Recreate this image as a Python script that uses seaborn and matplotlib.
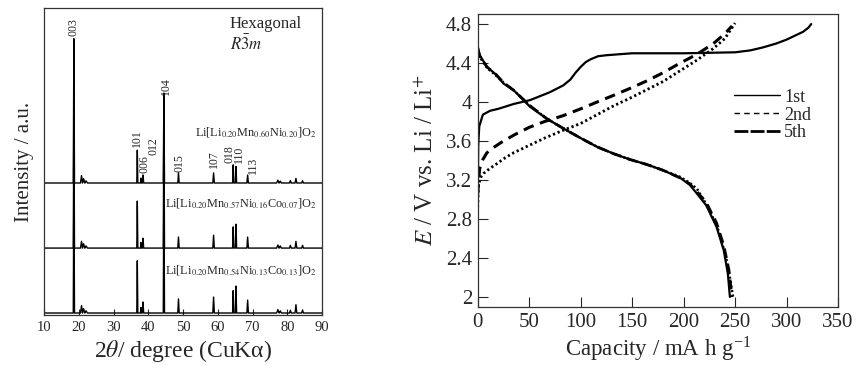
import numpy as np
import pandas as pd
import matplotlib
matplotlib.use("Agg")
import matplotlib.pyplot as plt
import seaborn as sns
from matplotlib.lines import Line2D

# ---------------- XRD data (left panel) ----------------
peak_pos = [18.6, 20.8, 21.4, 22.1, 36.85, 37.9, 38.5, 44.5, 48.7, 58.8, 64.45, 65.25, 68.6, 77.3, 78.0, 80.9, 82.5, 84.4]
peak_hw = [0.18, 0.3, 0.35, 0.4, 0.15, 0.15, 0.18, 0.18, 0.2, 0.22, 0.18, 0.18, 0.22, 0.35, 0.3, 0.25, 0.25, 0.25]
top_h = [47, 2.4, 1.4, 0.7, 10.7, 1.6, 2.6, 29.3, 3.3, 3.3, 5.9, 5.4, 2.6, 0.9, 0.6, 0.8, 1.5, 0.7]
mid_h = [46, 2.2, 1.4, 0.7, 15.3, 1.8, 3.2, 46, 3.6, 4.2, 6.9, 7.8, 3.6, 1.0, 0.7, 0.9, 2.2, 0.9]
bot_h = [46, 2.4, 1.4, 0.7, 17.0, 1.8, 3.6, 46, 4.6, 5.2, 7.3, 8.8, 4.2, 1.1, 0.7, 0.9, 2.7, 1.0]
baselines = [43.0, 21.8, 0.65]
xrd_labels = [r"Li[Li$_{0.20}$Mn$_{0.60}$Ni$_{0.20}$]O$_2$",
              r"Li[Li$_{0.20}$Mn$_{0.57}$Ni$_{0.16}$Co$_{0.07}$]O$_2$",
              r"Li[Li$_{0.20}$Mn$_{0.54}$Ni$_{0.13}$Co$_{0.13}$]O$_2$"]
label_y = [59.5, 36.5, 14.8]
hkl_text = ["003", "101", "006", "012", "104", "015", "107", "018\n110", "113"]
hkl_x = [18.6, 36.7, 38.9, 41.4, 45.0, 48.9, 59.0, 64.8, 70.1]
hkl_y = [90.8, 54.7, 46.2, 52.2, 71.8, 46.6, 47.9, 49.4, 46.0]

# ---------------- Charge/discharge data (right panel) ----------------
c1_cap = [0, 0.5, 1.5, 5, 12, 20, 35, 51, 70, 83, 90, 95, 100, 105, 110, 117, 125, 150, 200, 250, 265, 277, 290, 300, 310, 316, 321, 324]
c1_E = [2.86, 3.55, 3.75, 3.87, 3.91, 3.93, 3.98, 4.02, 4.10, 4.17, 4.23, 4.30, 4.36, 4.41, 4.44, 4.47, 4.48, 4.50, 4.50, 4.51, 4.53, 4.56, 4.60, 4.64, 4.69, 4.72, 4.76, 4.80]
c2_cap = [0, 1, 2, 5, 9, 15, 22, 35, 50, 65, 83, 100, 116, 130, 148, 165, 180, 195, 213, 229, 240, 247]
c2_E = [3.05, 3.22, 3.32, 3.41, 3.48, 3.53, 3.58, 3.66, 3.74, 3.80, 3.86, 3.93, 4.00, 4.06, 4.14, 4.22, 4.30, 4.39, 4.49, 4.60, 4.70, 4.78]
c5_cap = [0, 0.5, 1, 3, 6, 12, 19, 27, 35, 51, 65, 83, 100, 116, 130, 148, 165, 180, 195, 213, 229, 240, 250]
c5_E = [2.92, 3.08, 3.16, 3.23, 3.27, 3.32, 3.37, 3.43, 3.48, 3.56, 3.63, 3.71, 3.78, 3.87, 3.95, 4.04, 4.13, 4.21, 4.31, 4.43, 4.55, 4.65, 4.81]
d1_cap = [0, 2, 9, 18, 25, 35, 51, 67, 83, 100, 116, 132, 148, 164, 180, 197, 206, 213, 222, 232, 239, 243, 245]
d1_E = [4.57, 4.48, 4.36, 4.28, 4.19, 4.12, 3.95, 3.83, 3.73, 3.63, 3.54, 3.47, 3.41, 3.36, 3.30, 3.22, 3.15, 3.06, 2.94, 2.72, 2.48, 2.24, 2.00]
d2_cap = [0, 2, 9, 18, 25, 35, 51, 67, 83, 100, 116, 132, 148, 164, 180, 197, 206, 213, 222, 232, 239, 244, 247]
d2_E = [4.55, 4.47, 4.36, 4.28, 4.20, 4.12, 3.96, 3.83, 3.73, 3.63, 3.54, 3.47, 3.41, 3.36, 3.30, 3.22, 3.16, 3.08, 2.97, 2.76, 2.53, 2.28, 2.00]
d5_cap = [0, 2, 9, 18, 25, 35, 51, 67, 83, 100, 116, 132, 148, 164, 180, 197, 206, 213, 225, 234, 241, 245, 248]
d5_E = [4.53, 4.46, 4.35, 4.27, 4.20, 4.12, 3.96, 3.83, 3.73, 3.63, 3.54, 3.47, 3.41, 3.36, 3.30, 3.23, 3.17, 3.11, 2.90, 2.68, 2.42, 2.20, 2.00]
cycle_names = ["1st", "2nd", "5th"]

sns.set_style("ticks")
plt.rcParams["font.family"] = ["Liberation Serif", "DejaVu Serif"]
plt.rcParams["mathtext.fontset"] = "stix"

fig = plt.figure(figsize=(8.61, 3.65), dpi=100)
axL = fig.add_axes([44 / 861, 1 - 315 / 365, (322 - 44) / 861, (315 - 8) / 365])
axR = fig.add_axes([477.7 / 861, 1 - 307 / 365, (838 - 477.7) / 861, (307 - 14) / 365])


def stick_trace(base, heights):
    xs, ys = [10.0], [base]
    for p, w, h in zip(peak_pos, peak_hw, heights):
        xs += [p - w, p, p + w]
        ys += [base, base + h, base]
    xs.append(90.0)
    ys.append(base)
    return pd.DataFrame({"tt": xs, "I": ys})


for base, hs in zip(baselines, [top_h, mid_h, bot_h]):
    df = stick_trace(base, hs)
    sns.lineplot(data=df, x="tt", y="I", ax=axL, color="black", lw=1.0,
                 sort=False, estimator=None)

for t, x, y in zip(hkl_text, hkl_x, hkl_y):
    axL.text(x, y, t, rotation=90, ha="center", va="bottom", fontsize=8.5,
             linespacing=0.75)
for lab, y in zip(xrd_labels, label_y):
    axL.text(88.3, y, lab, ha="right", va="center", fontsize=8.8)
axL.text(63.5, 94.8, "Hexagonal", ha="left", va="center", fontsize=12)
axL.text(63.5, 88.0, r"$R\bar{3}m$", ha="left", va="center", fontsize=12)

axL.set_xlim(10, 90)
axL.set_ylim(0, 100)
axL.set_xticks(range(10, 91, 10))
axL.set_yticks([])
axL.tick_params(axis="x", direction="in", length=4, width=0.8, labelsize=10.5, pad=4)
axL.set_xlabel(r"2$\theta$/ degree (CuKα)", fontsize=17, labelpad=3)
axL.set_ylabel("Intensity / a.u.", fontsize=15, labelpad=7)
for s in axL.spines.values():
    s.set_visible(True)
    s.set_linewidth(0.9)
    s.set_color("#333333")

# right panel
sns.lineplot(x=c1_cap, y=c1_E, ax=axR, color="black", lw=1.6, sort=False, estimator=None)
sns.lineplot(x=d1_cap, y=d1_E, ax=axR, color="black", lw=1.6, sort=False, estimator=None)
sns.lineplot(x=c2_cap, y=c2_E, ax=axR, color="black", lw=2.2, sort=False, estimator=None)
sns.lineplot(x=d2_cap, y=d2_E, ax=axR, color="black", lw=2.0, sort=False, estimator=None)
sns.lineplot(x=c5_cap, y=c5_E, ax=axR, color="black", lw=2.0, sort=False, estimator=None)
sns.lineplot(x=d5_cap, y=d5_E, ax=axR, color="black", lw=1.8, sort=False, estimator=None)
lines = axR.get_lines()
lines[2].set_linestyle((0, (3.5, 2.2)))
lines[3].set_linestyle((0, (3.5, 2.2)))
lines[4].set_linestyle((0, (0.8, 1.0)))
lines[5].set_linestyle((0, (0.8, 1.0)))

handles = [Line2D([], [], color="black", lw=1.0),
           Line2D([], [], color="black", lw=1.0, linestyle=(0, (4, 3))),
           Line2D([], [], color="black", lw=2.0, linestyle=(0, (5, 0.8)))]
axR.legend(handles, cycle_names, loc="upper left", bbox_to_anchor=(0.69, 0.77),
           frameon=False, fontsize=13, handlelength=2.6, handletextpad=0.2,
           labelspacing=0.05, borderaxespad=0)

axR.set_xlim(0, 350)
axR.set_ylim(1.897, 4.903)
axR.set_xticks(range(0, 351, 50))
axR.set_yticks([2, 2.4, 2.8, 3.2, 3.6, 4, 4.4, 4.8])
axR.set_yticklabels(["2", "2.4", "2.8", "3.2", "3.6", "4", "4.4", "4.8"])
axR.tick_params(direction="in", length=7, width=0.8, labelsize=15, pad=4)
axR.set_xlabel(r"Capacity / mA h g$^{\mathregular{-1}}$", fontsize=16.5, labelpad=2)
axR.set_ylabel(r"$E$ / V vs. Li / Li$^{+}$", fontsize=18, labelpad=6)
for s in axR.spines.values():
    s.set_visible(True)
    s.set_linewidth(0.9)
    s.set_color("#333333")

fig.savefig("out.png", dpi=100)
